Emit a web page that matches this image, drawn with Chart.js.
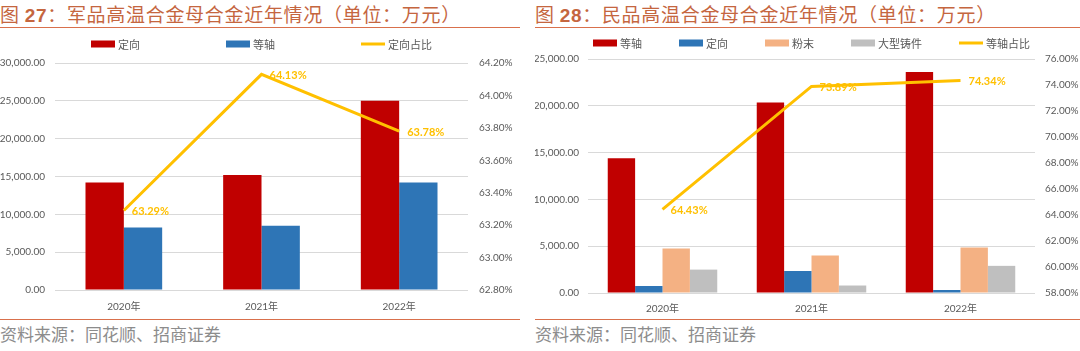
<!DOCTYPE html>
<html>
<head>
<meta charset="utf-8">
<script src="https://cdn.jsdelivr.net/npm/chart.js@4"></script>
<style>
  body { margin: 0; width: 1080px; height: 351px; background: #fff; position: relative; overflow: hidden;
         font-family: 'Noto Sans CJK SC', sans-serif; }
  .title { position: absolute; top: 0; height: 27px; line-height: 27px; font-size: 19px; color: #C5663F;
           border-bottom: 1.5px solid #D9704C; white-space: nowrap; letter-spacing: 0.7px; }
  .title b { font-family: 'Liberation Sans', sans-serif; font-weight: bold; }
  .src { position: absolute; top: 319px; height: 30px; line-height: 28px; font-size: 17px; color: #8c8c8c;
         border-top: 1.5px solid #D9704C; white-space: nowrap; }
  .box { position: absolute; top: 30px; height: 288px; }
</style>
</head>
<body>
<div class="title" style="left:0;width:520px">图 <b>27</b>：军品高温合金母合金近年情况（单位：万元）</div>
<div class="title" style="left:535px;width:545px">图 <b>28</b>：民品高温合金母合金近年情况（单位：万元）</div>
<div class="box" style="left:0;width:520px"><canvas id="c1" width="520" height="288"></canvas></div>
<div class="box" style="left:535px;width:545px"><canvas id="c2" width="545" height="288"></canvas></div>
<div class="src" style="left:0;width:520px">资料来源：同花顺、招商证券</div>
<div class="src" style="left:535px;width:545px">资料来源：同花顺、招商证券</div>
<script>
const years = ['2020年', '2021年', '2022年'];

// 图27 军品
const milDingxiang = [14200, 15200, 25000];
const milDengzhou = [8250, 8500, 14200];
const milRatio = [63.29, 64.13, 63.78];

// 图28 民品
const civDengzhou = [14400, 20350, 23600];
const civDingxiang = [750, 2350, 320];
const civPowder = [4750, 4000, 4870];
const civCasting = [2500, 800, 2900];
const civRatio = [64.43, 73.89, 74.34];

const RED = '#C00000', BLUE = '#2E75B6', PEACH = '#F4B183', GREY = '#BFBFBF', GOLD = '#FFC000';
const tickFont = { family: "Lato, 'Noto Sans CJK SC', sans-serif", size: 10 };
const tickColor = '#595959';

// percent labels to the right of each line point
const lineLabels = {
    id: 'lineLabels',
    afterDatasetsDraw(chart) {
        const ctx = chart.ctx;
        chart.data.datasets.forEach((ds, i) => {
            if (ds.type !== 'line') return;
            const meta = chart.getDatasetMeta(i);
            ctx.save();
            ctx.font = 'bold 11px Lato, sans-serif';
            ctx.fillStyle = GOLD;
            ctx.textBaseline = 'middle';
            meta.data.forEach((pt, j) => {
                ctx.fillText(ds.data[j].toFixed(2) + '%', pt.x + 8, pt.y + 1);
            });
            ctx.restore();
        });
    }
};

// excel-like legend row, centred over the plot
const rowLegend = {
    id: 'rowLegend',
    afterDraw(chart, args, opts) {
        const ctx = chart.ctx;
        const sw = 24, gap = 3;
        ctx.save();
        ctx.font = "11px 'Noto Sans CJK SC', sans-serif";
        const items = chart.data.datasets.map(ds => ({
            text: ds.label,
            color: ds.type === 'line' ? GOLD : ds.backgroundColor,
            line: ds.type === 'line'
        }));
        const widths = items.map(it => sw + gap + ctx.measureText(it.text).width);
        const total = widths.reduce((a, b) => a + b, 0) + opts.spacing * (items.length - 1);
        let x = (chart.chartArea.left + chart.chartArea.right) / 2 - total / 2;
        const y = opts.y;
        items.forEach((it, i) => {
            if (it.line) {
                ctx.strokeStyle = it.color;
                ctx.lineWidth = 3;
                ctx.beginPath();
                ctx.moveTo(x, y);
                ctx.lineTo(x + sw, y);
                ctx.stroke();
            } else {
                ctx.fillStyle = it.color;
                ctx.fillRect(x, y - 3.5, sw, 7);
            }
            ctx.fillStyle = tickColor;
            ctx.textBaseline = 'middle';
            ctx.fillText(it.text, x + sw + gap, y + 0.5);
            x += widths[i] + opts.spacing;
        });
        ctx.restore();
    }
};

function makeChart(id, bars, line, cfg) {
    const datasets = bars.map(b => ({
        type: 'bar',
        label: b.label,
        data: b.data,
        backgroundColor: b.color,
        yAxisID: 'y',
        order: 1,
        categoryPercentage: cfg.catPct,
        barPercentage: 1
    }));
    datasets.push({
        type: 'line',
        label: line.label,
        data: line.data,
        borderColor: GOLD,
        backgroundColor: GOLD,
        borderWidth: 3,
        pointRadius: 0,
        tension: 0,
        yAxisID: 'y1',
        order: 0
    });

    return new Chart(document.getElementById(id), {
        data: { labels: years, datasets: datasets },
        options: {
            responsive: false,
            animation: false,
            layout: { padding: { top: cfg.padTop, bottom: 0, left: 0, right: 0 } },
            plugins: {
                tooltip: { enabled: false },
                legend: { display: false },
                rowLegend: { y: cfg.legendY, spacing: cfg.legendGap }
            },
            scales: {
                x: {
                    grid: { display: false },
                    border: { display: false },
                    ticks: { color: tickColor, font: tickFont, padding: cfg.xPad },
                    afterFit(s) { s.height = cfg.xH; }
                },
                y: {
                    position: 'left',
                    min: 0,
                    max: cfg.yMax,
                    ticks: {
                        stepSize: 5000,
                        color: tickColor,
                        font: tickFont,
                        padding: cfg.leftPad,
                        callback: v => v.toLocaleString('en-US', { minimumFractionDigits: 2, maximumFractionDigits: 2 })
                    },
                    grid: { color: '#D9D9D9', drawTicks: false },
                    border: { display: false },
                    afterFit(s) { s.width = cfg.leftW; }
                },
                y1: {
                    position: 'right',
                    min: cfg.rMin,
                    max: cfg.rMax,
                    ticks: {
                        stepSize: cfg.rStep,
                        color: tickColor,
                        font: tickFont,
                        padding: cfg.rightPad,
                        callback: v => v.toFixed(2) + '%'
                    },
                    grid: { display: false, drawTicks: false },
                    border: { display: false },
                    afterFit(s) { s.width = cfg.rightW; }
                }
            }
        },
        plugins: [lineLabels, rowLegend]
    });
}

makeChart('c1',
    [{ label: '定向', data: milDingxiang, color: RED },
     { label: '等轴', data: milDengzhou, color: BLUE }],
    { label: '定向占比', data: milRatio },
    { catPct: 0.557, yMax: 30000, rMin: 62.8, rMax: 64.2, rStep: 0.2,
      leftW: 55, rightW: 52, leftPad: 10, rightPad: 11,
      padTop: 33, xH: 28, xPad: 3, legendY: 14, legendGap: 86 });

makeChart('c2',
    [{ label: '等轴', data: civDengzhou, color: RED },
     { label: '定向', data: civDingxiang, color: BLUE },
     { label: '粉末', data: civPowder, color: PEACH },
     { label: '大型铸件', data: civCasting, color: GREY }],
    { label: '等轴占比', data: civRatio },
    { catPct: 0.735, yMax: 25000, rMin: 58, rMax: 76, rStep: 2,
      leftW: 53, rightW: 45, leftPad: 9, rightPad: 10,
      padTop: 29, xH: 25, xPad: 2, legendY: 13, legendGap: 37 });
</script>
</body>
</html>
